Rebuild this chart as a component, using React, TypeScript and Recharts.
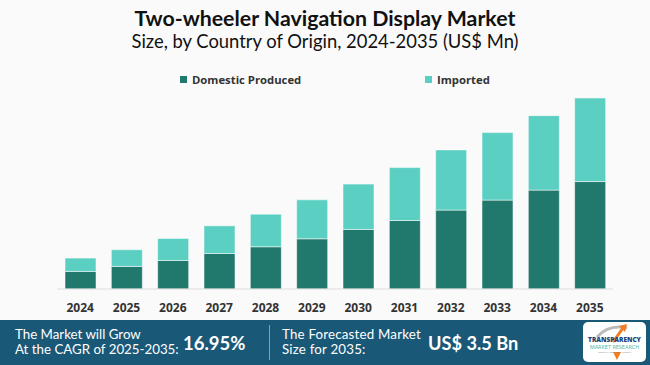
import React from 'react';
import { BarChart, Bar, XAxis, YAxis, Legend } from 'recharts';

const years = ['2024', '2025', '2026', '2027', '2028', '2029', '2030', '2031', '2032', '2033', '2034', '2035'];
const domestic = [322, 414, 523, 651, 774, 920, 1091, 1255, 1446, 1629, 1812, 1969];
const imported = [245, 306, 403, 507, 598, 714, 831, 970, 1103, 1237, 1365, 1532];
const seriesNames = ['Domestic Produced', 'Imported'];
const seriesColors = ['#21786d', '#5ccfc3'];

const data = years.map((y, i) => ({ year: y, domestic: domestic[i], imported: imported[i] }));

const LegendContent = () => (
  <div style={{ position: 'relative', width: 650, height: 18, fontFamily: 'Open Sans', fontWeight: 700, fontSize: 11.3, color: '#333' }}>
    {[180, 425].map((x, i) => (
      <div key={i} style={{ position: 'absolute', left: x, top: 0, height: 18, display: 'flex', alignItems: 'center' }}>
        <span style={{ display: 'inline-block', width: 7, height: 7, background: seriesColors[i], marginRight: 5 }} />
        <span>{seriesNames[i]}</span>
      </div>
    ))}
  </div>
);

export default function App() {
  return (
    <div style={{ position: 'absolute', left: 0, top: 0, width: 650, height: 365, background: '#fafafa', overflow: 'hidden' }}>
      <div style={{ position: 'absolute', left: 0, top: 6, width: 650, textAlign: 'center', fontFamily: 'Lato', fontWeight: 700, fontSize: 21.3, color: '#111', lineHeight: '24px' }}>
        Two-wheeler Navigation Display Market
      </div>
      <div style={{ position: 'absolute', left: 0, top: 29, width: 650, textAlign: 'center', fontFamily: 'Lato', fontWeight: 400, fontSize: 18.4, color: '#111', lineHeight: '24px' }}>
        Size, by Country of Origin, 2024-2035 (US$ Mn)
      </div>
      <div style={{ position: 'absolute', left: 0, top: 0 }}>
        <BarChart width={650} height={320} data={data} margin={{ top: 98, right: 37, left: 57, bottom: 0 }} barSize={31}>
          <XAxis
            dataKey="year"
            height={31}
            tickLine={false}
            tickMargin={8}
            axisLine={{ stroke: '#dddddd' }}
            tick={{ fontFamily: 'Open Sans', fontWeight: 700, fontSize: 12, fill: '#333' }}
            interval={0}
          />
          <YAxis hide domain={[0, 3500]} allowDataOverflow />
          <Legend verticalAlign="middle" align="center" layout="horizontal" wrapperStyle={{ top: 70, left: 0, width: 650 }} content={<LegendContent />} />
          <Bar dataKey="domestic" name={seriesNames[0]} stackId="a" fill={seriesColors[0]} stroke="#ffffff" strokeOpacity={0.5} strokeWidth={1} isAnimationActive={false} />
          <Bar dataKey="imported" name={seriesNames[1]} stackId="a" fill={seriesColors[1]} stroke="#ffffff" strokeOpacity={0.5} strokeWidth={1} isAnimationActive={false} />
        </BarChart>
      </div>
      <div style={{ position: 'absolute', left: 0, top: 320, width: 650, height: 45, background: '#1a5878', color: '#fff' }}>
        <div style={{ position: 'absolute', left: 15, top: 7, fontFamily: 'Lato', fontSize: 13.3, lineHeight: '15px', whiteSpace: 'nowrap' }}>
          The Market will Grow<br />At the CAGR of 2025-2035:
        </div>
        <div style={{ position: 'absolute', left: 183, top: 10, fontFamily: 'Lato', fontWeight: 700, fontSize: 18.5, lineHeight: '26px', whiteSpace: 'nowrap' }}>
          16.95%
        </div>
        <div style={{ position: 'absolute', left: 269, top: 5, width: 1, height: 35, background: 'rgba(200,210,220,0.6)' }} />
        <div style={{ position: 'absolute', left: 282, top: 7, fontFamily: 'Lato', fontSize: 13.3, lineHeight: '15px', whiteSpace: 'nowrap', letterSpacing: 0.2 }}>
          The Forecasted Market<br />Size for 2035:
        </div>
        <div style={{ position: 'absolute', left: 428, top: 10, fontFamily: 'Lato', fontWeight: 700, fontSize: 18.2, lineHeight: '26px', whiteSpace: 'nowrap' }}>
          US$ 3.5 Bn
        </div>
        <svg style={{ position: 'absolute', left: 583, top: 2 }} width={64} height={41}>
          <rect x={0} y={0} width={63} height={40} rx={5} fill="#ffffff" />
          <path d="M14 15 Q26 2 44 6" stroke="#bbbbbb" strokeWidth={3} fill="none" />
          <path d="M30 20 L40 6" stroke="#f47b20" strokeWidth={3} fill="none" />
          <path d="M36 4 L44 2 L42 10 Z" fill="#f47b20" />
          <path d="M30 30 L34 38 L38 30 Z" fill="#f47b20" />
          <text x={31.5} y={20} textAnchor="middle" fontFamily="Open Sans" fontWeight={800} fontSize={6.5} fill="#1b3f73">TRANSPARENCY</text>
          <text x={31.5} y={27} textAnchor="middle" fontFamily="Open Sans" fontSize={5.5} fill="#4bb5a5">MARKET RESEARCH</text>
          <text x={31.5} y={31} textAnchor="middle" fontFamily="Open Sans" fontSize={2.5} fill="#888">Insights • Research • Growth</text>
        </svg>
      </div>
    </div>
  );
}
